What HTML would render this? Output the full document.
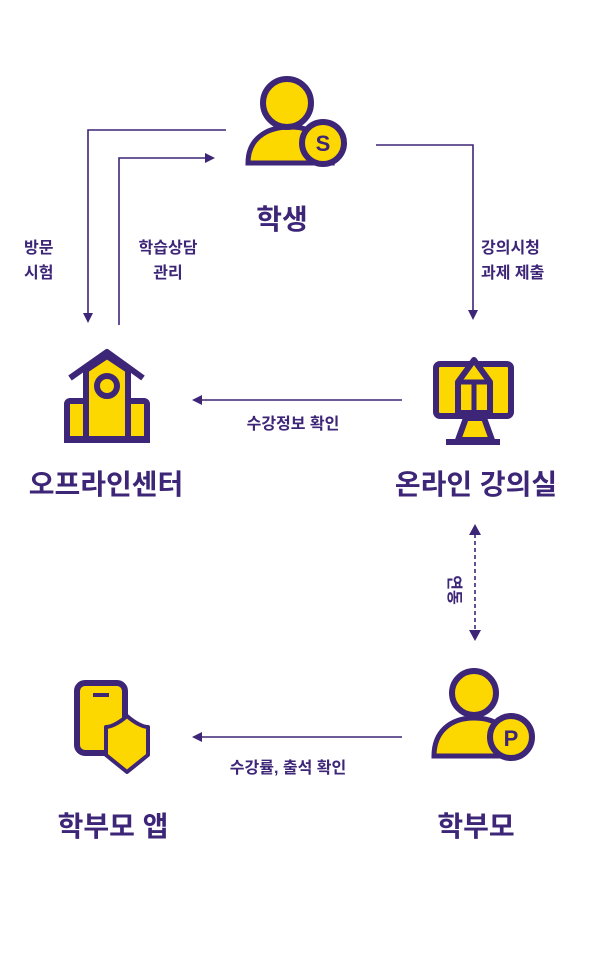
<!DOCTYPE html>
<html><head><meta charset="utf-8"><style>
body{margin:0;background:#fff;}
svg text{font-family:"Liberation Sans","Noto Sans CJK KR",sans-serif;fill:#3d2577;font-weight:bold;}
</style></head><body>
<svg width="602" height="951" viewBox="0 0 602 951" xmlns="http://www.w3.org/2000/svg">
<defs>
<marker id="a" markerWidth="10" markerHeight="10" refX="5" refY="5" orient="auto" markerUnits="userSpaceOnUse"><path d="M0,0 L10,5 L0,10z" fill="#3d2577"/></marker>
</defs>
<g stroke="#3d2577" stroke-width="1.6" fill="none">
<path d="M226,130 H88 V318" marker-end="url(#a)"/>
<path d="M119,325 V158 H210" marker-end="url(#a)"/>
<path d="M376,145 H473 V315" marker-end="url(#a)"/>
<path d="M402,400 H197" marker-end="url(#a)"/>
<path d="M402,737 H197" marker-end="url(#a)"/>
<path d="M475,534 V632" stroke-dasharray="4,3"/>
</g>
<path d="M475,524 L469,535 L481,535z M475,641 L469,630 L481,630z" fill="#3d2577"/>

<g stroke="#3d2577" stroke-width="6" fill="#fcd700">
<path d="M248,163 C248,140 265,127 290,127 C315,127 330,140 332,163 Z" stroke-width="5"/>
<circle cx="287" cy="103" r="24"/>
<circle cx="323" cy="143" r="21"/>
</g>
<text x="323" y="151" font-size="22" text-anchor="middle">S</text>

<g stroke="#3d2577" stroke-width="6" fill="#fcd700" stroke-linejoin="round">
<rect x="67" y="401" width="20" height="38" rx="3"/>
<rect x="127" y="401" width="20" height="38" rx="3"/>
<path d="M86,439 V370 L107,356 L128,370 V439 Z"/>
<path d="M70,378 L107,352 L143,378" fill="none"/>
<circle cx="107" cy="386" r="10"/>
<path d="M64,440 H150" fill="none"/>
</g>

<g stroke="#3d2577" stroke-width="6" fill="#fcd700" stroke-linejoin="round">
<path d="M466,418 L458,440 H492 L484,418 Z"/>
<rect x="436" y="364" width="75" height="52" rx="4"/>
<path d="M458,413 V382 L474,360 L490,382 V413 Z"/>
<path d="M458,382 H490 M474,382 V413" fill="none" stroke-width="5"/>
<path d="M446,442 H500" fill="none"/>
</g>

<g stroke="#3d2577" stroke-width="6" fill="#fcd700" stroke-linejoin="round">
<rect x="77" y="683" width="48" height="70" rx="8"/>
<path d="M93,695 H109" fill="none" stroke-width="4"/>
<path d="M127,716 C118,724 110,727 106,727 V755 L127,772 L148,755 V727 C144,727 136,724 127,716 Z" stroke-width="4"/>
</g>

<g stroke="#3d2577" stroke-width="6" fill="#fcd700">
<path d="M434,756 C434,732 450,718 474,718 C498,718 512,730 514,756 Z" stroke-width="5"/>
<circle cx="474" cy="693" r="22"/>
<circle cx="511" cy="737" r="21"/>
</g>
<text x="511" y="746" font-size="22" text-anchor="middle">P</text>

<g font-size="28">
<text x="282" y="229" text-anchor="middle">학생</text>
<text x="106" y="494" text-anchor="middle">오프라인센터</text>
<text x="476" y="494" text-anchor="middle">온라인 강의실</text>
<text x="113" y="836" text-anchor="middle">학부모 앱</text>
<text x="476" y="836" text-anchor="middle">학부모</text>
</g>

<g font-size="16">
<text x="24" y="253">방문</text>
<text x="24" y="278">시험</text>
<text x="168" y="253" text-anchor="middle">학습상담</text>
<text x="168" y="278" text-anchor="middle">관리</text>
<text x="481" y="253">강의시청</text>
<text x="481" y="278">과제 제출</text>
<text x="293" y="429" text-anchor="middle">수강정보 확인</text>
<text x="288" y="773" text-anchor="middle">수강률, 출석 확인</text>
<text x="0" y="0" transform="translate(449,590) rotate(90)" text-anchor="middle">연동</text>
</g>
</svg>
</body></html>
